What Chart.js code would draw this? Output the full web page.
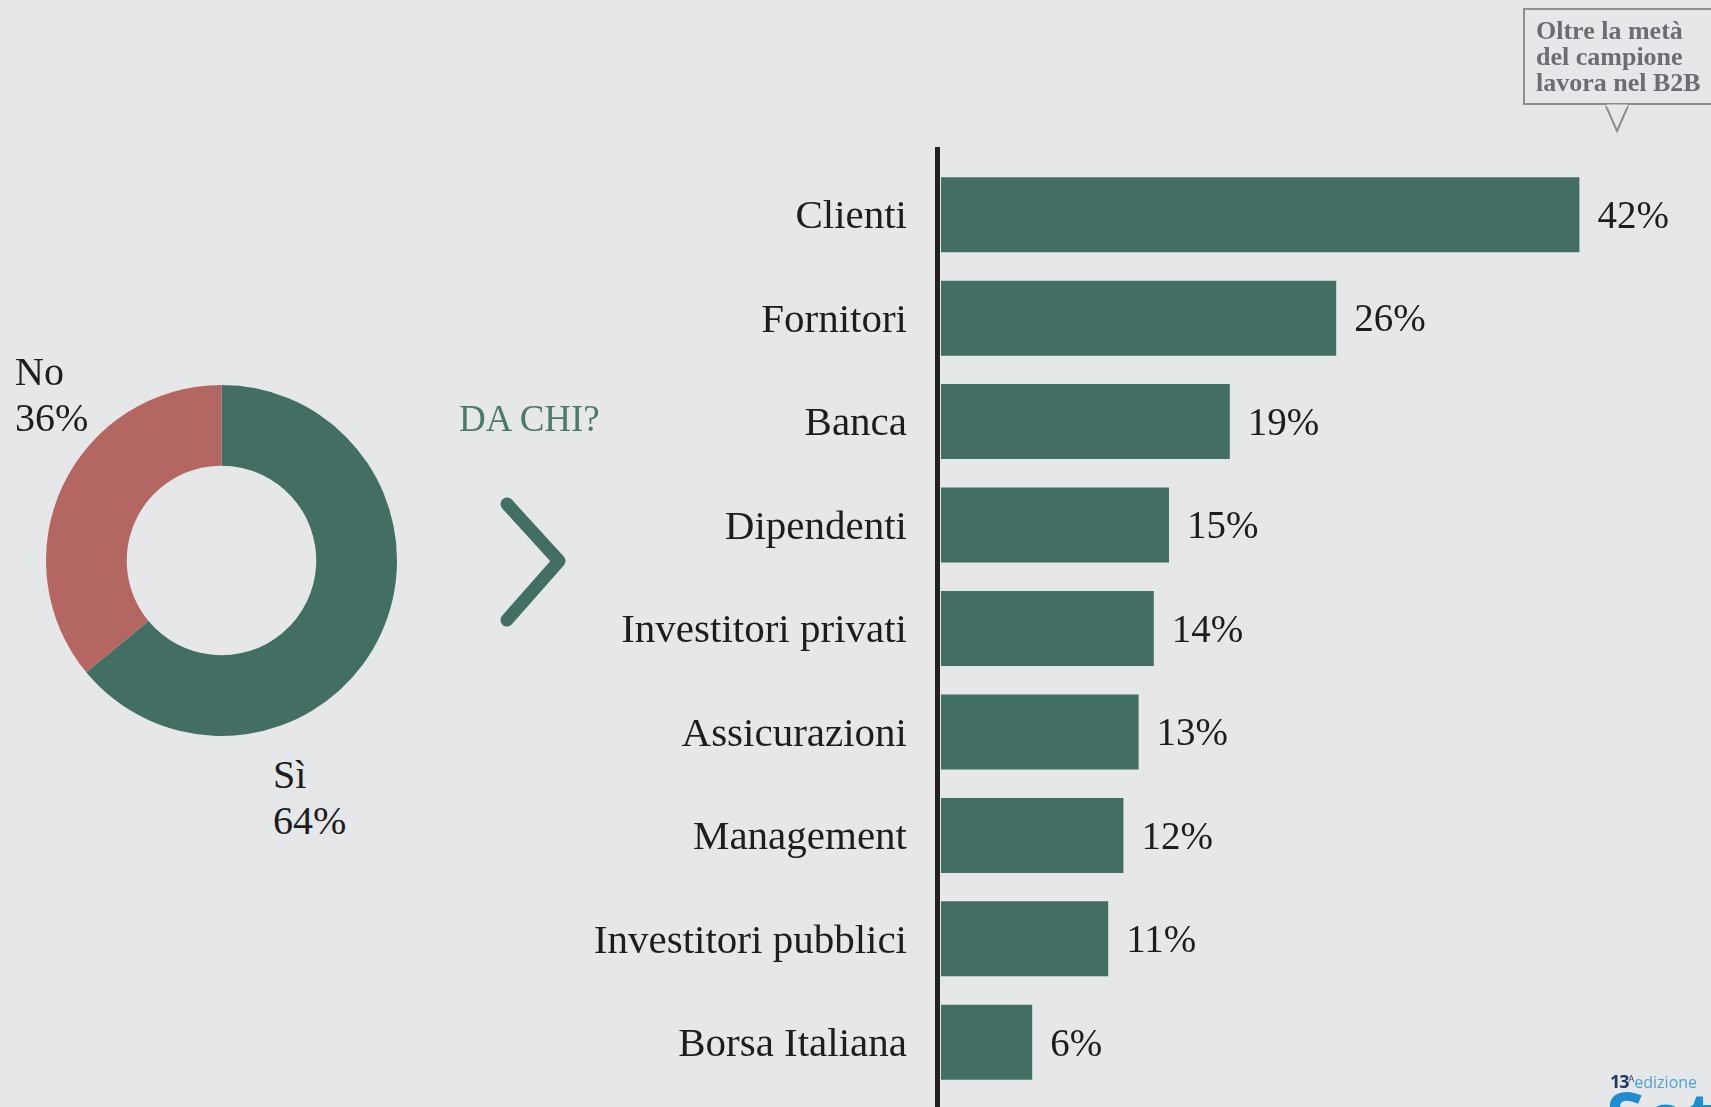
<!DOCTYPE html>
<html lang="it">
<head>
<meta charset="utf-8">
<script src="https://cdn.jsdelivr.net/npm/chart.js@4.4.1/dist/chart.umd.min.js"></script>
<style>
  html, body { margin: 0; padding: 0; }
  body {
    width: 1711px; height: 1107px; overflow: hidden; position: relative;
    background: #e6e7e8; font-family: 'Liberation Serif', serif; color: #1d1d1f;
  }
  .abs { position: absolute; }
  #donutBox { left: 46px; top: 385px; width: 351px; height: 351px; }
  #barBox { left: 540px; top: 0; width: 1171px; height: 1107px; }
  .pieLabel { font-size: 40px; line-height: 46px; }
  #daChi { left: 459px; top: 399px; font-size: 37px; line-height: 40px; color: #4e786e; }
  #callout {
    left: 1523px; top: 8px; width: 200px; height: 97px;
    border: 2px solid #8e8e90; box-sizing: border-box; border-right: none;
  }
  #calloutText {
    left: 1536px; top: 18px; font-weight: bold; font-size: 26px; line-height: 26px; color: #6b6d75;
  }
  #logoSmall { left: 1610px; top: 1069px; font-family: 'Open Sans', sans-serif; font-size: 16px; line-height: 20px; }
  #logoSmall b { color: #1f3a68; font-weight: 700; font-size: 18px; letter-spacing: -1px; }
  #logoSmall sup { color: #1f3a68; font-size: 9px; }
  #logoSmall span { color: #4aa3d8; }
  #logoBig { left: 1606px; top: 1081px; font-family: 'Open Sans', sans-serif; font-weight: 700; font-size: 70px; line-height: 70px; color: #1e8ccf; }
</style>
</head>
<body>

<div id="donutBox" class="abs"><canvas id="donut"></canvas></div>
<div id="barBox" class="abs"><canvas id="bars"></canvas></div>

<div class="abs pieLabel" style="left:15px; top:349px;">No<br>36%</div>
<div class="abs pieLabel" style="left:273px; top:752px;">Sì<br>64%</div>
<div id="daChi" class="abs">DA CHI?</div>

<svg class="abs" style="left:0; top:0;" width="1711" height="1107">
  <polyline points="507,504 559,561 507,620" fill="none" stroke="#426e63" stroke-width="13" stroke-linecap="round" stroke-linejoin="round"/>
  <polyline points="1606,106 1617,131 1628,106" fill="#e6e7e8" stroke="#8e8e90" stroke-width="2"/>
</svg>
<div id="callout" class="abs"></div>
<svg class="abs" style="left:0; top:0;" width="1711" height="1107">
  <line x1="1607" y1="106" x2="1627" y2="106" stroke="#e6e7e8" stroke-width="3"/>
</svg>
<div id="calloutText" class="abs">Oltre la metà<br>del campione<br>lavora nel B2B</div>

<div id="logoSmall" class="abs"><b>13</b><sup>A</sup><span>edizione</span></div>
<div id="logoBig" class="abs">Setti</div>

<script>
const pieLabels = ['Sì', 'No'];
const pieValues = [64, 36];
const pieColors = ['#426e63', '#b46762'];

const categories = [
  'Clienti',
  'Fornitori',
  'Banca',
  'Dipendenti',
  'Investitori privati',
  'Assicurazioni',
  'Management',
  'Investitori pubblici',
  'Borsa Italiana',
];
const shares = [42, 26, 19, 15, 14, 13, 12, 11, 6];

const green = '#426e63';
const ink = '#1d1d1f';

// donut on the left
new Chart(document.getElementById('donut'), {
  type: 'doughnut',
  data: {
    labels: pieLabels,
    datasets: [{
      data: pieValues,
      backgroundColor: pieColors,
      borderWidth: 0,
    }],
  },
  options: {
    responsive: true,
    maintainAspectRatio: false,
    animation: false,
    cutout: '54%',
    plugins: { legend: { display: false }, tooltip: { enabled: false } },
  },
});

// thick black axis line, runs from above the first bar to the page bottom
const axisLine = {
  id: 'axisLine',
  afterDatasetsDraw(chart) {
    const { ctx, chartArea } = chart;
    ctx.save();
    ctx.fillStyle = '#222222';
    ctx.fillRect(chartArea.left - 6, chartArea.top - 16, 5, chart.height);
    ctx.restore();
  },
};

// percent labels at the end of each bar
const valueLabels = {
  id: 'valueLabels',
  afterDatasetsDraw(chart) {
    const { ctx } = chart;
    const meta = chart.getDatasetMeta(0);
    ctx.save();
    ctx.font = "39px 'Liberation Serif'";
    ctx.fillStyle = ink;
    ctx.textAlign = 'left';
    ctx.textBaseline = 'middle';
    meta.data.forEach((bar, i) => {
      ctx.fillText(shares[i] + '%', bar.x + 18, bar.y + 3);
    });
    ctx.restore();
  },
};

new Chart(document.getElementById('bars'), {
  type: 'bar',
  data: {
    labels: categories,
    datasets: [{
      data: shares,
      backgroundColor: green,
      borderWidth: 0,
      categoryPercentage: 1,
      barPercentage: 0.725,
    }],
  },
  options: {
    indexAxis: 'y',
    responsive: true,
    maintainAspectRatio: false,
    animation: false,
    layout: { padding: { top: 163, bottom: 13, right: 10, left: 0 } },
    scales: {
      x: { display: false, min: 0, max: 50 },
      y: {
        afterFit(scale) {
          scale.width = 401;
          // keep the tick padding from eating into the plot height
          scale.paddingTop = 0;
          scale.paddingBottom = 0;
        },
        grid: { display: false, drawTicks: false },
        border: { display: false },
        ticks: {
          padding: 34,
          labelOffset: 3,
          color: ink,
          font: { family: "'Liberation Serif'", size: 41 },
        },
      },
    },
    plugins: { legend: { display: false }, tooltip: { enabled: false } },
  },
  plugins: [axisLine, valueLabels],
});
</script>
</body>
</html>
